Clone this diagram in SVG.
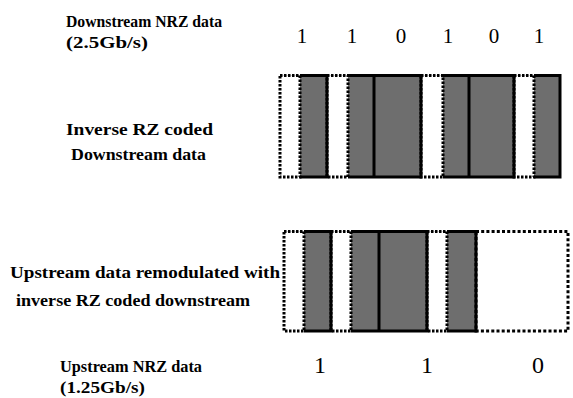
<svg xmlns="http://www.w3.org/2000/svg" width="573" height="398" viewBox="0 0 573 398">
<style>
.lbl{font-family:"Liberation Serif","Times New Roman",serif;font-weight:bold;font-size:16.5px;fill:#000}
.dig{font-family:"Liberation Serif","Times New Roman",serif;font-size:21px;fill:#000}
.digb{font-family:"Liberation Serif","Times New Roman",serif;font-size:24px;fill:#000}
.g{fill:#6e6e6e}
.w{fill:#fff}
.solid{fill:none;stroke:#000;stroke-width:3}
.dot{fill:none;stroke:#000;stroke-width:3;stroke-dasharray:2.5 1.5}
.dotb{fill:none;stroke:#000;stroke-width:3;stroke-dasharray:3 2.2}
</style>
<rect width="573" height="398" fill="#fff"/>
<g id="labels">
<text class="lbl" x="66" y="27" textLength="156" lengthAdjust="spacingAndGlyphs">Downstream NRZ data</text>
<text class="lbl" x="66" y="48" textLength="82" lengthAdjust="spacingAndGlyphs">(2.5Gb/s)</text>
<text class="lbl" x="66" y="135" textLength="147" lengthAdjust="spacingAndGlyphs">Inverse RZ coded</text>
<text class="lbl" x="71" y="160" textLength="135" lengthAdjust="spacingAndGlyphs">Downstream data</text>
<text class="lbl" x="10" y="278" textLength="270" lengthAdjust="spacingAndGlyphs">Upstream data remodulated with</text>
<text class="lbl" x="16" y="306" textLength="234" lengthAdjust="spacingAndGlyphs">inverse RZ coded downstream</text>
<text class="lbl" x="60" y="372" textLength="142" lengthAdjust="spacingAndGlyphs">Upstream NRZ data</text>
<text class="lbl" x="60" y="393" textLength="85" lengthAdjust="spacingAndGlyphs">(1.25Gb/s)</text>
</g>
<g id="downstream-bits">
<text class="dig" x="302" y="43" text-anchor="middle">1</text>
<text class="dig" x="352" y="43" text-anchor="middle">1</text>
<text class="dig" x="401" y="43" text-anchor="middle">0</text>
<text class="dig" x="448" y="43" text-anchor="middle">1</text>
<text class="dig" x="494" y="43" text-anchor="middle">0</text>
<text class="dig" x="539" y="43" text-anchor="middle">1</text>
</g>
<g id="upstream-bits">
<text class="digb" x="320" y="373" text-anchor="middle">1</text>
<text class="digb" x="427" y="373" text-anchor="middle">1</text>
<text class="digb" x="538" y="373" text-anchor="middle">0</text>
</g>
<g id="inverse-rz-waveform">
<rect class="g" x="280" y="75.5" width="280" height="101.5"/>
<rect class="w" x="280" y="75.5" width="20" height="101.5"/>
<rect class="w" x="327" y="75.5" width="21" height="101.5"/>
<rect class="w" x="421" y="75.5" width="22" height="101.5"/>
<rect class="w" x="514" y="75.5" width="20" height="101.5"/>
<rect class="dot" x="280" y="75.5" width="20" height="101.5"/>
<rect class="dot" x="327" y="75.5" width="21" height="101.5"/>
<rect class="dot" x="421" y="75.5" width="22" height="101.5"/>
<rect class="dot" x="514" y="75.5" width="20" height="101.5"/>
<path class="solid" d="M300 75.5H327V177H300M348 75.5H421V177H348M374 75.5V177M443 75.5H514V177H443M469 75.5V177M534 75.5H560V177H534"/>
</g>
<g id="remodulated-waveform">
<rect class="g" x="284" y="231.5" width="192" height="99.5"/>
<rect class="w" x="284" y="231.5" width="20" height="99.5"/>
<rect class="w" x="331" y="231.5" width="20" height="99.5"/>
<rect class="w" x="427" y="231.5" width="20" height="99.5"/>
<rect class="dot" x="284" y="231.5" width="20" height="99.5"/>
<rect class="dot" x="331" y="231.5" width="20" height="99.5"/>
<rect class="dot" x="427" y="231.5" width="20" height="99.5"/>
<path class="solid" d="M304 231.5H331V331H304M351 231.5H427V331H351M379 231.5V331M447 231.5H476V331H447"/>
<rect class="dotb" x="476" y="231.5" width="92" height="99.5"/>
</g>
</svg>
